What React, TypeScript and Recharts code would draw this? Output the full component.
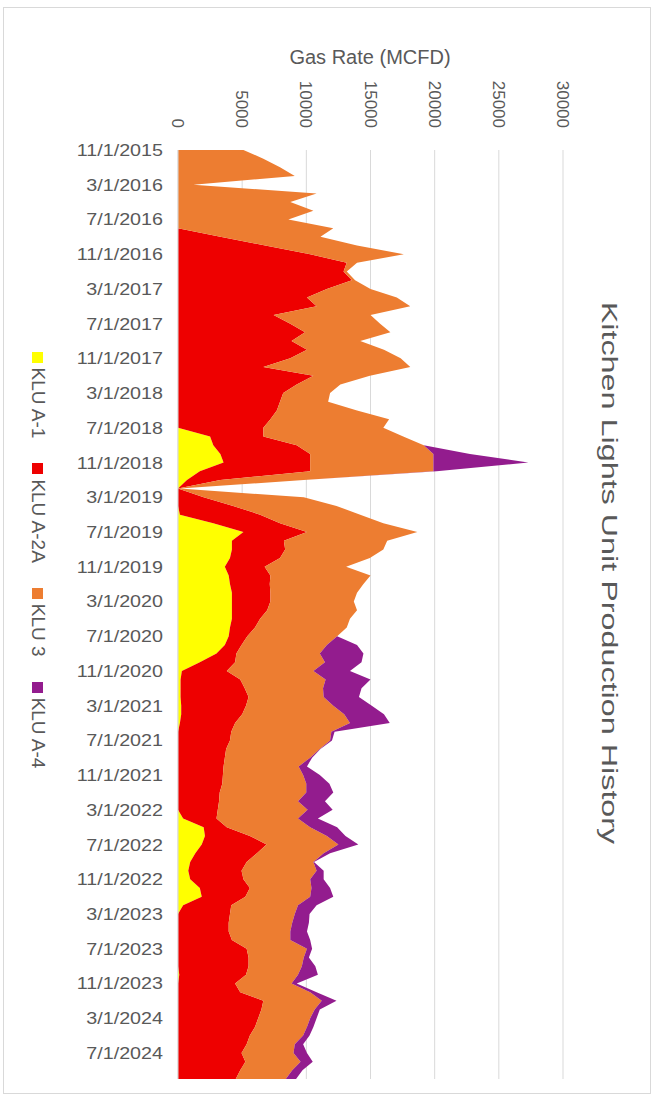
import { AreaChart, Area, XAxis, YAxis, CartesianGrid } from "recharts";

// chart is laid out as a normal landscape chart, then turned 90deg clockwise
const W = 1099;
const H = 654;
const FONT = "'Liberation Sans', Arial, sans-serif";
const GREY = "#595959";

// monthly dates, 11/1/2015 .. 10/1/2024
const months: string[] = [];
for (let k = 0; k < 108; k++) {
  const m = ((10 + k) % 12) + 1;
  const y = 2015 + Math.floor((10 + k) / 12);
  months.push(`${m}/1/${y}`);
}

const gasTicks = [0, 5000, 10000, 15000, 20000, 25000, 30000];

const kluA1 = [
  0, 0, 0, 0, 0, 0, 0, 0, 0, 0, 0, 0, 0, 0, 0, 0, 0, 0, 0, 0, 0, 0, 0, 0, 0, 0, 0, 0, 0, 0,
  0, 0, 0, 2500, 2750, 3300, 3550, 1700, 700, 0, 0, 0, 150, 2750, 5100, 4200, 4200, 4050,
  3650, 3950, 4050, 4200, 4200, 4200, 4200, 4050, 3950, 3650, 3000, 1700, 300, 200, 200,
  200, 250, 250, 150, 0, 0, 0, 0, 0, 0, 0, 0, 0, 0, 400, 2000, 2100, 1850, 1350, 950, 800,
  950, 1700, 1850, 400, 0, 0, 0, 0, 0, 0, 0, 100, 0, 0, 0, 0, 0, 0, 0, 0, 0, 0, 0, 0,
];

const kluA2A = [
  0, 0, 0, 0, 0, 0, 0, 0, 0, 0, 3300, 6800, 10300, 13150, 12900, 13550, 11600, 10050,
  10800, 7450, 8750, 9900, 8850, 10050, 8750, 6650, 10550, 9250, 8200, 7950, 7700, 7200,
  6650, 4150, 6500, 7000, 6750, 8600, 2600, 0, 2000, 4300, 6250, 5200, 4950, 4050, 4150,
  3900, 3100, 3250, 3100, 3000, 3000, 2750, 2200, 1950, 1450, 1300, 1550, 2750, 3500, 4650,
  5000, 5300, 5050, 4750, 4300, 4150, 4050, 3750, 3650, 3550, 3500, 3450, 3250, 3200, 3100,
  2600, 1800, 3500, 5050, 4800, 4400, 4150, 4150, 3900, 3400, 3750, 4050, 3950, 3950, 4200,
  5350, 5500, 5500, 5200, 4450, 4850, 6650, 6500, 6250, 6000, 5600, 5350, 4950, 5250, 4850,
  4500,
];

const klu3 = [
  5100, 6650, 7950, 9100, 1200, 10800, 8750, 10550, 8600, 12100, 7800, 7150, 7300, 800, 250,
  250, 3400, 7000, 7300, 7550, 7000, 6650, 5350, 6000, 8600, 11450, 4400, 3400, 3650, 3750,
  6250, 9250, 9350, 10900, 9900, 9600, 9600, 9600, 6500, 150, 7800, 8050, 7800, 8050, 8600,
  8050, 7650, 7000, 6350, 7800, 7300, 6750, 6500, 7000, 7000, 7150, 7000, 6650, 6500, 7000,
  6750, 6650, 6100, 5850, 6800, 7950, 8950, 7800, 7800, 7300, 6650, 5850, 6250, 6550, 6750,
  6150, 7000, 6350, 6500, 6000, 5600, 5200, 5200, 5850, 5200, 4800, 5050, 5200, 5050, 4950,
  4800, 4550, 4700, 4300, 4150, 4050, 4400, 5450, 4550, 4150, 4050, 4050, 4150, 3750, 4050,
  4300, 4050, 3900,
];

const kluA4 = [
  0, 0, 0, 0, 0, 0, 0, 0, 0, 0, 0, 0, 0, 0, 0, 0, 0, 0, 0, 0, 0, 0, 0, 0, 0, 0, 0, 0, 0, 0,
  0, 0, 0, 0, 0, 2850, 7400, 250, 0, 0, 0, 0, 0, 0, 0, 0, 0, 0, 0, 0, 0, 0, 0, 0, 0, 0, 0,
  2350, 3400, 2850, 2850, 3500, 3000, 2750, 3000, 3100, 3100, 250, 150, 50, 150, 650, 1300,
  1800, 2100, 2100, 1950, 1550, 2100, 1450, 1550, 500, 50, 550, 1050, 1450, 1800, 1450, 1150,
  1300, 1300, 1550, 400, 400, 1050, 1550, 400, 500, 1150, 400, 500, 500, 500, 650, 1050, 950,
  800, 800,
];

const series = [
  { key: "a1", name: "KLU A-1", color: "#FFFF00" },
  { key: "a2a", name: "KLU A-2A", color: "#EE0000" },
  { key: "k3", name: "KLU 3", color: "#ED7D31" },
  { key: "a4", name: "KLU A-4", color: "#931C8E" },
];

const data = months.map((date, i) => ({
  date,
  a1: kluA1[i],
  a2a: kluA2A[i],
  k3: klu3[i],
  a4: kluA4[i],
}));

const DateTick = (props: any) => {
  const { x, y, payload } = props;
  return (
    <text
      transform={`translate(${x},${y}) rotate(-90) scale(1.16,1)`}
      textAnchor="end"
      dy="0.35em"
      fill={GREY}
      fontSize={17}
      fontFamily={FONT}
    >
      {payload.value}
    </text>
  );
};

const GasTick = (props: any) => {
  const { x, y, payload } = props;
  return (
    <text x={x} y={y} textAnchor="end" dy="0.35em" fill={GREY} fontSize={17} fontFamily={FONT}>
      {payload.value}
    </text>
  );
};

export default function App() {
  return (
    <div
      style={{
        position: "absolute",
        left: 0,
        top: 0,
        width: 654,
        height: 1099,
        overflow: "hidden",
        background: "#fff",
      }}
    >
      <div
        style={{
          position: "absolute",
          left: 0,
          top: 0,
          width: W,
          height: H,
          transformOrigin: "0 0",
          transform: "translate(654px, 0) rotate(90deg)",
          fontFamily: FONT,
        }}
      >
        <div
          style={{
            position: "absolute",
            left: 7,
            top: 3,
            width: 1085,
            height: 646,
            border: "1px solid #d9d9d9",
          }}
        />
        <div style={{ position: "absolute", left: 0, top: 0 }}>
          <AreaChart
            width={W}
            height={H}
            data={data}
            margin={{ top: 91, right: 20, left: 0, bottom: 0 }}
          >
            <CartesianGrid vertical={false} stroke="#d9d9d9" />
            <XAxis
              dataKey="date"
              interval={3}
              height={178}
              tickSize={0}
              tickMargin={15}
              tickLine={false}
              axisLine={{ stroke: "#d9d9d9" }}
              tick={<DateTick />}
            />
            <YAxis
              width={150}
              domain={[0, 30000]}
              ticks={gasTicks}
              tickSize={0}
              tickMargin={22}
              tickLine={false}
              axisLine={false}
              tick={<GasTick />}
            />
            {series.map((s) => (
              <Area
                key={s.key}
                type="linear"
                dataKey={s.key}
                name={s.name}
                stackId="1"
                stroke="none"
                fill={s.color}
                fillOpacity={1}
                isAnimationActive={false}
              />
            ))}
          </AreaChart>
        </div>
        <svg
          width={W}
          height={H}
          style={{ position: "absolute", left: 0, top: 0, pointerEvents: "none" }}
        >
          <text
            transform="translate(573,52) scale(1.47,1)"
            textAnchor="middle"
            fill={GREY}
            fontSize={22}
            fontFamily={FONT}
          >
            Kitchen Lights Unit Production History
          </text>
          <text
            transform="translate(57,284) rotate(-90)"
            textAnchor="middle"
            dy="0.35em"
            fill={GREY}
            fontSize={20}
            fontFamily={FONT}
          >
            Gas Rate (MCFD)
          </text>
        </svg>
        <div
          style={{
            position: "absolute",
            left: 0,
            top: 604,
            width: 1120,
            height: 24,
            display: "flex",
            justifyContent: "center",
            alignItems: "center",
            gap: 25,
            fontSize: 19,
            color: GREY,
          }}
        >
          {series.map((s) => (
            <div key={s.key} style={{ display: "flex", alignItems: "center" }}>
              <span
                style={{
                  display: "inline-block",
                  width: 11,
                  height: 11,
                  background: s.color,
                  marginRight: 5,
                }}
              />
              <span>{s.name}</span>
            </div>
          ))}
        </div>
      </div>
    </div>
  );
}
